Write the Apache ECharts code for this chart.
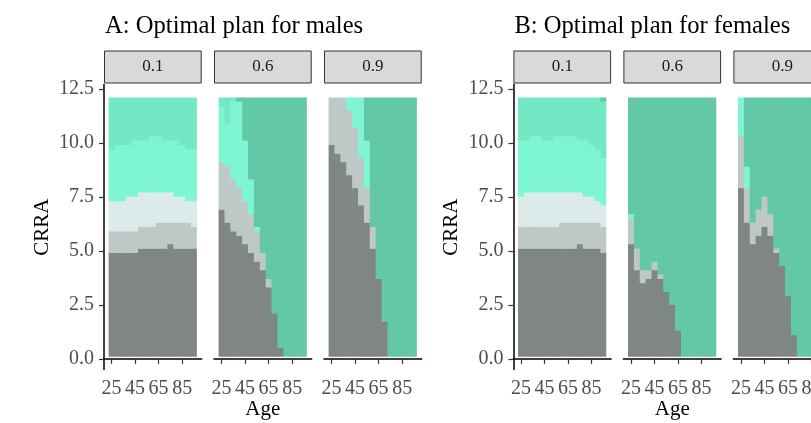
<!DOCTYPE html>
<html><head><meta charset="utf-8">
<script src="https://cdn.jsdelivr.net/npm/echarts@6/dist/echarts.min.js"></script>
<style>html,body{margin:0;padding:0;background:#fff}#c{width:811px;height:423px}</style>
</head><body><div id="c"></div>
<script>
// ---------- data ----------
const ages = [25,30,35,40,45,50,55,60,65,70,75,80,85,90,95];
const xTicks = [25,45,65,85];
const yTicks = [0,2.5,5,7.5,10,12.5];
const planNames = ['Plan 1','Plan 2','Plan 3','Plan 4','Plan 5','Plan 6'];
const facetLabels = ['0.1','0.6','0.9'];
const panelTitles = ['A: Optimal plan for males','B: Optimal plan for females'];
const crraBottom = 0.1, crraTop = 12.1, ageStep = 5;

// upper CRRA edge of plans 1..5 in each age column; plan 6 fills the rest
const males01 = [
  [4.9,4.9,4.9,4.9,4.9,5.1,5.1,5.1,5.1,5.1,5.3,5.1,5.1,5.1,5.1],
  [5.9,5.9,5.9,5.9,5.9,6.1,6.1,6.1,6.3,6.3,6.3,6.3,6.3,6.3,6.1],
  [7.3,7.3,7.3,7.5,7.5,7.7,7.7,7.7,7.7,7.7,7.7,7.5,7.5,7.3,7.3],
  [9.7,9.9,9.9,9.9,10.1,10.1,10.1,10.3,10.3,10.1,10.1,10.1,9.9,9.7,9.7],
  [12.1,12.1,12.1,12.1,12.1,12.1,12.1,12.1,12.1,12.1,12.1,12.1,12.1,12.1,12.1]
];
const males06 = [
  [6.9,6.3,5.9,5.7,5.3,4.9,4.5,4.1,3.3,2.1,0.5,0.1,0.1,0.1,0.1],
  [9.1,8.9,8.3,7.9,7.3,6.7,5.9,4.9,3.7,2.1,0.5,0.1,0.1,0.1,0.1],
  [9.1,8.9,8.3,7.9,7.3,6.7,5.9,4.9,3.7,2.1,0.5,0.1,0.1,0.1,0.1],
  [11.7,10.9,11.9,11.9,10.1,8.3,6.1,4.9,3.7,2.1,0.5,0.1,0.1,0.1,0.1],
  [12.1,12.1,12.1,11.9,10.1,8.3,6.1,4.9,3.7,2.1,0.5,0.1,0.1,0.1,0.1]
];
const males09 = [
  [9.9,9.5,9.1,8.5,7.9,7.1,6.3,5.1,3.7,1.7,0.1,0.1,0.1,0.1,0.1],
  [12.1,12.1,12.1,11.5,10.7,9.3,7.9,6.1,3.7,1.7,0.1,0.1,0.1,0.1,0.1],
  [12.1,12.1,12.1,11.5,10.7,9.3,7.9,6.1,3.7,1.7,0.1,0.1,0.1,0.1,0.1],
  [12.1,12.1,12.1,12.1,12.1,12.1,10.1,6.1,3.7,1.7,0.1,0.1,0.1,0.1,0.1],
  [12.1,12.1,12.1,12.1,12.1,12.1,10.1,6.1,3.7,1.7,0.1,0.1,0.1,0.1,0.1]
];
const females01 = [
  [5.1,5.1,5.1,5.1,5.1,5.1,5.1,5.1,5.1,5.1,5.3,5.1,5.1,5.1,4.9],
  [6.1,6.1,6.1,6.1,6.1,6.1,6.1,6.3,6.3,6.3,6.3,6.3,6.3,6.3,6.1],
  [7.5,7.7,7.7,7.7,7.7,7.7,7.7,7.7,7.7,7.7,7.7,7.5,7.5,7.3,7.1],
  [10.1,10.1,10.3,10.3,10.1,10.1,10.3,10.3,10.3,10.3,10.1,10.1,9.9,9.7,9.3],
  [12.1,12.1,12.1,12.1,12.1,12.1,12.1,12.1,12.1,12.1,12.1,12.1,12.1,12.1,11.9]
];
const females06 = [
  [5.3,4.1,3.5,3.7,4.1,3.7,3.1,2.5,1.3,0.1,0.1,0.1,0.1,0.1,0.1],
  [6.5,5.1,4.1,4.1,4.5,3.9,3.1,2.5,1.3,0.1,0.1,0.1,0.1,0.1,0.1],
  [6.5,5.1,4.1,4.1,4.5,3.9,3.1,2.5,1.3,0.1,0.1,0.1,0.1,0.1,0.1],
  [6.7,5.1,4.1,4.1,4.5,3.9,3.1,2.5,1.3,0.1,0.1,0.1,0.1,0.1,0.1],
  [6.7,5.1,4.1,4.1,4.5,3.9,3.1,2.5,1.3,0.1,0.1,0.1,0.1,0.1,0.1]
];
const females09 = [
  [7.9,6.3,5.3,5.7,6.1,5.7,4.9,4.3,2.9,1.1,0.1,0.1,0.1,0.1,0.1],
  [10.3,7.9,6.3,6.9,7.5,6.7,5.1,4.3,2.9,1.1,0.1,0.1,0.1,0.1,0.1],
  [10.3,7.9,6.3,6.9,7.5,6.7,5.1,4.3,2.9,1.1,0.1,0.1,0.1,0.1,0.1],
  [12.1,8.9,6.3,6.9,7.5,6.7,5.1,4.3,2.9,1.1,0.1,0.1,0.1,0.1,0.1],
  [12.1,8.9,6.3,6.9,7.5,6.7,5.1,4.3,2.9,1.1,0.1,0.1,0.1,0.1,0.1]
];
const facets = [males01, males06, males09, females01, females06, females09];

// ---------- style / layout ----------
const planColors = ['#7f8685','#bec8c7','#dceae9','#7ff6d3','#74e7c4','#62c8a7'];
const FONT = 'Liberation Serif, Times New Roman, serif';
const panelLeft = [104, 513.4];
const facetStep = 110, gridW = 97.7, gridTop = 84.6, gridH = 285;
const xMin = 18.6, xMax = 101.6, yMin = -0.5, yMax = 12.7;

function buildCells(edges){
  const out = [];
  ages.forEach((a, i) => {
    let lo = crraBottom;
    edges.forEach((row, k) => {
      const hi = row[i];
      if (hi > lo + 1e-9) { out.push([a, lo, hi, k]); lo = hi; }
    });
    if (crraTop > lo + 1e-9) out.push([a, lo, crraTop, edges.length]);
  });
  return out;
}

function renderItem(params, api){
  const a = api.value(0), lo = api.value(1), hi = api.value(2), c = api.value(3);
  const p1 = api.coord([a - ageStep/2, hi]);
  const p2 = api.coord([a + ageStep/2, lo]);
  const last = a >= ages[ages.length-1];
  const top = hi >= crraTop - 1e-9;
  return {type:'rect', shape:{x:p1[0], y:p1[1] - (top ? 0 : 0.5),
            width:p2[0]-p1[0] + (last ? 0 : 0.7), height:p2[1]-p1[1] + (top ? 0 : 0.5)},
          style:{fill:planColors[c]}};
}

const grids = [], xAxes = [], yAxes = [], series = [], graphics = [];
facets.forEach((f, idx) => {
  const p = Math.floor(idx/3), j = idx % 3;
  const left = panelLeft[p] + j*facetStep;
  grids.push({left:left, top:gridTop, width:gridW, height:gridH, containLabel:false, outerBoundsMode:'none'});
  xAxes.push({type:'value', gridIndex:idx, min:xMin, max:xMax,
    axisLine:{show:true, lineStyle:{color:'#000', width:1.5}},
    axisTick:{show:true, length:5, lineStyle:{color:'#333', width:1.2}, customValues:xTicks},
    axisLabel:{show:true, customValues:xTicks, margin:9, color:'#4d4d4d', fontSize:20, fontFamily:FONT, hideOverlap:false},
    splitLine:{show:false}});
  const first = j === 0;
  yAxes.push({type:'value', gridIndex:idx, min:yMin, max:yMax,
    axisLine:{show:first, lineStyle:{color:'#000', width:1.5}},
    axisTick:{show:first, length:5, lineStyle:{color:'#333', width:1.2}, customValues:yTicks},
    axisLabel:{show:first, customValues:yTicks, margin:10, color:'#4d4d4d', fontSize:20, fontFamily:FONT,
      formatter: v => Number(v).toFixed(1)},
    splitLine:{show:false}});
  series.push({type:'custom', name:panelTitles[p] + ' ' + facetLabels[j], xAxisIndex:idx, yAxisIndex:idx,
    renderItem:renderItem, data:buildCells(f), clip:true, animation:false,
    encode:{x:0, y:[1,2]}});
  graphics.push({type:'rect', shape:{x:left+0.5, y:51, width:gridW-1, height:32},
    style:{fill:'#d9d9d9', stroke:'#333', lineWidth:1}});
  graphics.push({type:'text', x:left+gridW/2, y:67, style:{text:facetLabels[j], align:'center',
    verticalAlign:'middle', font:'17px ' + FONT, fill:'#1a1a1a'}});
});
panelTitles.forEach((t, p) => {
  graphics.push({type:'text', x:panelLeft[p]+1, y:27, style:{text:t, align:'left', verticalAlign:'middle',
    font:'24.6px ' + FONT, fill:'#000'}});
  graphics.push({type:'text', x:panelLeft[p]-62, y:gridTop+gridH/2, rotation:Math.PI/2,
    style:{text:'CRRA', align:'center', verticalAlign:'middle', font:'21px ' + FONT, fill:'#000'}});
  graphics.push({type:'text', x:panelLeft[p]+facetStep+gridW/2, y:409,
    style:{text:'Age', align:'center', verticalAlign:'middle', font:'21px ' + FONT, fill:'#000'}});
});

const chart = echarts.init(document.getElementById('c'), null, {renderer:'canvas'});
chart.setOption({animation:false, backgroundColor:'#fff', grid:grids, xAxis:xAxes, yAxis:yAxes,
  series:series, graphic:graphics});
</script></body></html>
